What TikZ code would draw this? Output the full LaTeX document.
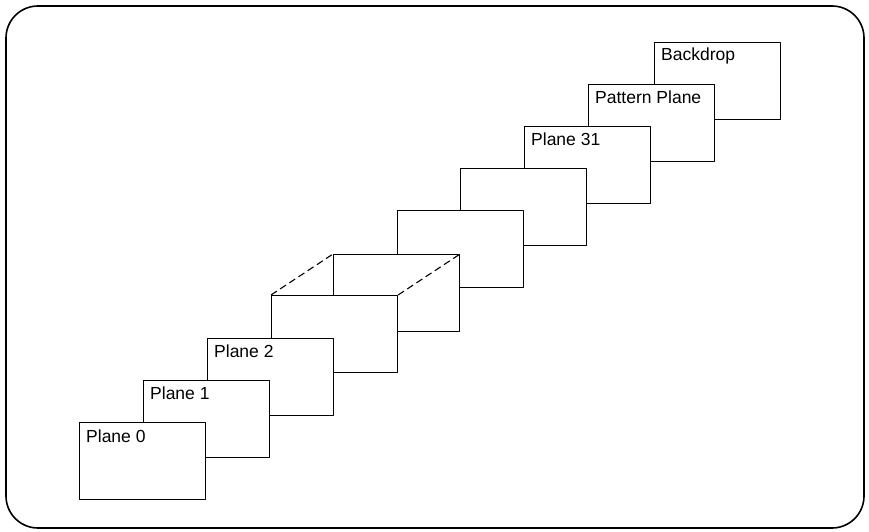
\documentclass[tikz,border=0pt]{standalone}
\usepackage{fontspec}
\setmainfont{Liberation Sans}

\begin{document}
\begin{tikzpicture}[
		x=1pt, y=-1pt,
		every node/.style={font=\fontsize{17.5}{20}\selectfont},
		plane/.style={draw, fill=white, line width=1.1pt, anchor=north west, inner sep=0pt, minimum width=126pt, minimum height=77pt},
		tag/.style={anchor=north west, inner sep=0pt},
		line cap=round,
		line join=round
		]
		\useasboundingbox (0,0) rectangle (869,532);
		
		% Outer frame
		\draw[line width=1.6pt, rounded corners=32pt] (6,6) rectangle (864,528);
		
		% Planes, back to front
		\node[plane] (p9) at (654,42) {};
		\node[plane] (p8) at (588,84) {};
		\node[plane] (p7) at (524,126) {};
		\node[plane] (p6) at (460,168) {};
		\node[plane] (p5) at (397,210) {};
		\node[plane] (p4) at (333,254) {};
		\node[plane] (p3) at (271,295) {};
		\node[plane] (p2) at (207,338) {};
		\node[plane] (p1) at (143,380) {};
		\node[plane] (p0) at (79,422) {};
		
		% Gap between the planes
		\draw[line width=1.1pt, line cap=butt, dash pattern=on 7pt off 4pt] (p3.north west) -- (p4.north west);
		\draw[line width=1.1pt, line cap=butt, dash pattern=on 7pt off 4pt] (p3.north east) -- (p4.north east);
		
		% Labels
		\node[tag] (t9) at ([xshift=7pt,yshift=-6pt]p9.north west) {Backdrop};
		\node[tag] (t8) at ([xshift=7pt,yshift=-7pt]p8.north west) {Pattern Plane};
		\node[tag] (t7) at ([xshift=7pt,yshift=-7pt]p7.north west) {Plane 31};
		\node[tag] (t2) at ([xshift=7pt,yshift=-7pt]p2.north west) {Plane 2};
		\node[tag] (t1) at ([xshift=7pt,yshift=-7pt]p1.north west) {Plane 1};
		\node[tag] (t0) at ([xshift=7pt,yshift=-8pt]p0.north west) {Plane 0};
	\end{tikzpicture}
\end{document}
